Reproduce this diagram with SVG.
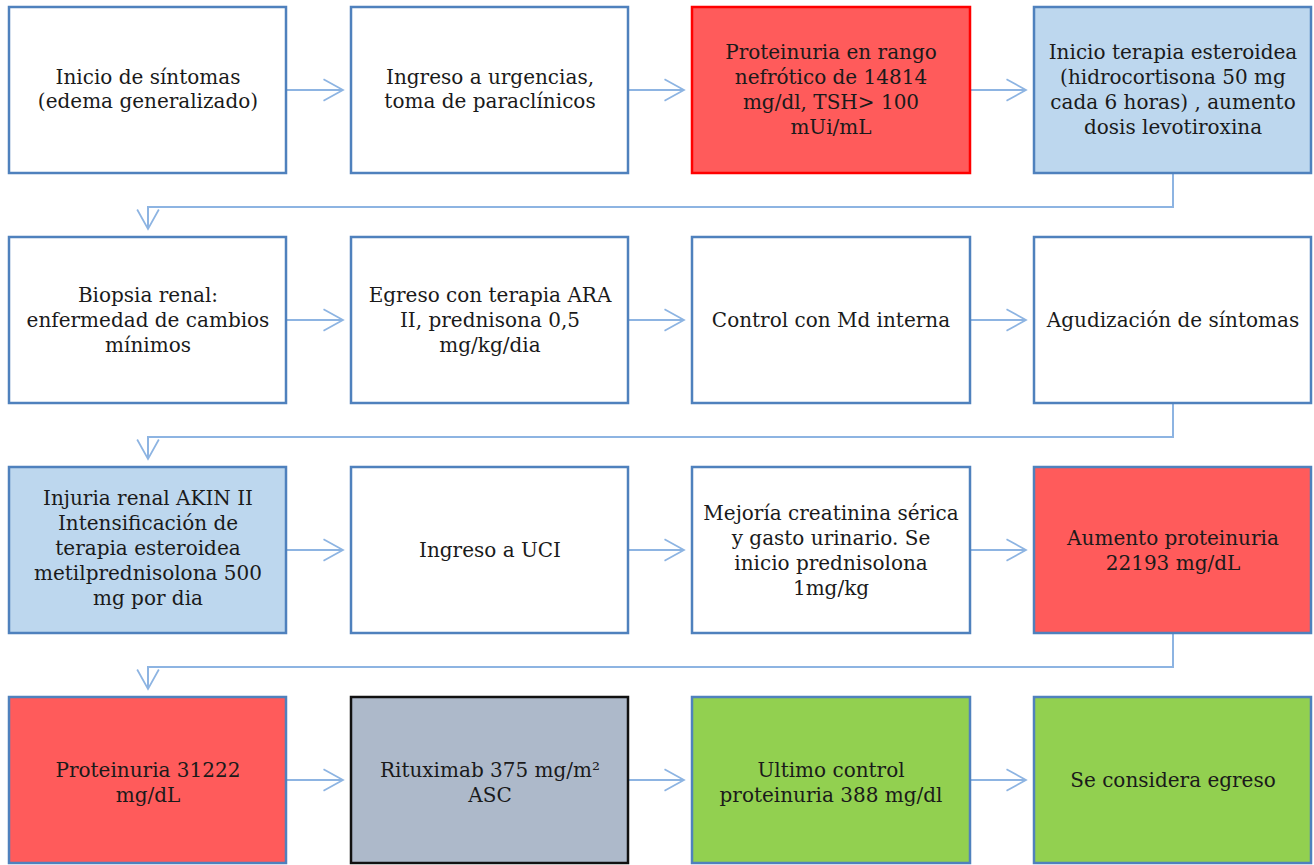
<svg xmlns="http://www.w3.org/2000/svg" width="1314" height="865" viewBox="0 0 1314 865">
<defs>
<marker id="arr" markerUnits="userSpaceOnUse" markerWidth="24" markerHeight="26" viewBox="-20 -12 22 24" refX="0" refY="0" orient="auto">
<path d="M-18,-10 L0,0 L-18,10" fill="none" stroke="#8db4e2" stroke-width="1.6"/>
</marker>
<style>
.box{stroke:#4f81bd;stroke-width:2.5;fill:#ffffff}
.red{fill:#ff5b5b}
.redb{stroke:#ff0000}
.blue{fill:#bdd7ee}
.grey{fill:#adb9ca;stroke:#111111}
.green{fill:#92d050}
.c{fill:none;stroke:#8db4e2;stroke-width:2;marker-end:url(#arr)}
text{font-family:"DejaVu Serif","Liberation Serif",serif;font-size:20px;fill:#1a1a1a;text-anchor:middle}
</style>
</defs>
<rect width="1314" height="865" fill="#ffffff"/>
<g id="connectors">
<path class="c" d="M286,90 H343"/>
<path class="c" d="M628,90 H684"/>
<path class="c" d="M970,90 H1026"/>
<path class="c" d="M1173,173 V207 H148 V229"/>
<path class="c" d="M286,320 H343"/>
<path class="c" d="M628,320 H684"/>
<path class="c" d="M970,320 H1026"/>
<path class="c" d="M1173,403 V437 H148 V459"/>
<path class="c" d="M286,550 H343"/>
<path class="c" d="M628,550 H684"/>
<path class="c" d="M970,550 H1026"/>
<path class="c" d="M1173,633 V667 H148 V689"/>
<path class="c" d="M286,780 H343"/>
<path class="c" d="M628,780 H684"/>
<path class="c" d="M970,780 H1026"/>
</g>
<g id="n1"><rect class="box" x="9" y="7" width="277" height="166"/>
<text x="148" y="84">Inicio de síntomas</text><text x="148" y="108">(edema generalizado)</text></g>
<g id="n2"><rect class="box" x="351" y="7" width="277" height="166"/>
<text x="490" y="84">Ingreso a urgencias,</text><text x="490" y="108">toma de paraclínicos</text></g>
<g id="n3"><rect class="box red redb" x="692" y="7" width="278" height="166"/>
<text x="831" y="59">Proteinuria en rango</text><text x="831" y="84">nefrótico de 14814</text><text x="831" y="109">mg/dl, TSH&gt; 100</text><text x="831" y="134">mUi/mL</text></g>
<g id="n4"><rect class="box blue" x="1034" y="7" width="277" height="166"/>
<text x="1173" y="59">Inicio terapia esteroidea</text><text x="1173" y="84">(hidrocortisona 50 mg</text><text x="1173" y="109">cada 6 horas) , aumento</text><text x="1173" y="134">dosis levotiroxina</text></g>
<g id="n5"><rect class="box" x="9" y="237" width="277" height="166"/>
<text x="148" y="302">Biopsia renal:</text><text x="148" y="327">enfermedad de cambios</text><text x="148" y="352">mínimos</text></g>
<g id="n6"><rect class="box" x="351" y="237" width="277" height="166"/>
<text x="490" y="302">Egreso con terapia ARA</text><text x="490" y="327">II, prednisona 0,5</text><text x="490" y="352">mg/kg/dia</text></g>
<g id="n7"><rect class="box" x="692" y="237" width="278" height="166"/>
<text x="831" y="327">Control con Md interna</text></g>
<g id="n8"><rect class="box" x="1034" y="237" width="277" height="166"/>
<text x="1173" y="327">Agudización de síntomas</text></g>
<g id="n9"><rect class="box blue" x="9" y="467" width="277" height="166"/>
<text x="148" y="505">Injuria renal AKIN II</text><text x="148" y="530">Intensificación de</text><text x="148" y="555">terapia esteroidea</text><text x="148" y="580">metilprednisolona 500</text><text x="148" y="605">mg por dia</text></g>
<g id="n10"><rect class="box" x="351" y="467" width="277" height="166"/>
<text x="490" y="557">Ingreso a UCI</text></g>
<g id="n11"><rect class="box" x="692" y="467" width="278" height="166"/>
<text x="831" y="520">Mejoría creatinina sérica</text><text x="831" y="545">y gasto urinario. Se</text><text x="831" y="570">inicio prednisolona</text><text x="831" y="595">1mg/kg</text></g>
<g id="n12"><rect class="box red" x="1034" y="467" width="277" height="166"/>
<text x="1173" y="545">Aumento proteinuria</text><text x="1173" y="570">22193 mg/dL</text></g>
<g id="n13"><rect class="box red" x="9" y="697" width="277" height="166"/>
<text x="148" y="777">Proteinuria 31222</text><text x="148" y="802">mg/dL</text></g>
<g id="n14"><rect class="box grey" x="351" y="697" width="277" height="166"/>
<text x="490" y="777">Rituximab 375 mg/m²</text><text x="490" y="802">ASC</text></g>
<g id="n15"><rect class="box green" x="692" y="697" width="278" height="166"/>
<text x="831" y="777">Ultimo control</text><text x="831" y="802">proteinuria 388 mg/dl</text></g>
<g id="n16"><rect class="box green" x="1034" y="697" width="277" height="166"/>
<text x="1173" y="787">Se considera egreso</text></g>
</svg>
